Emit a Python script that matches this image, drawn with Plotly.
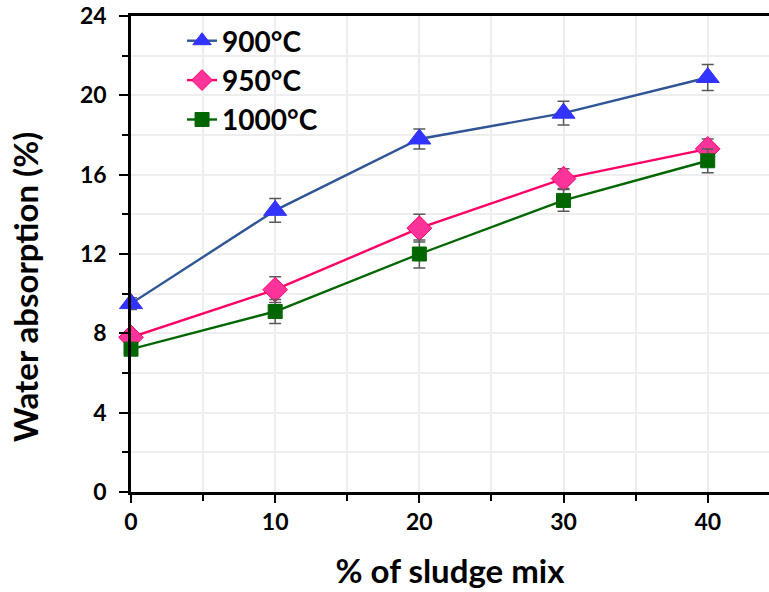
import plotly.graph_objects as go

sludge = [0, 10, 20, 30, 40]
wa_900 = [9.5, 14.2, 17.8, 19.1, 20.9]
err_900 = [0.3, 0.6, 0.5, 0.6, 0.65]
wa_950 = [7.8, 10.2, 13.3, 15.8, 17.3]
err_950 = [0.2, 0.65, 0.7, 0.5, 0.5]
wa_1000 = [7.2, 9.1, 12.0, 14.7, 16.7]
err_1000 = [0.2, 0.6, 0.7, 0.55, 0.6]
y_ticks = [0, 4, 8, 12, 16, 20, 24]
x_ticks = [0, 10, 20, 30, 40]

FONT = "Lato"
fig = go.Figure()

series = [
    ("900°C", wa_900, err_900, "#2F5597", "#3333FF", "#3333FF", "triangle-up", 20),
    ("950°C", wa_950, err_950, "#FF0066", "#FF3399", "#FF0066", "diamond", 19),
    ("1000°C", wa_1000, err_1000, "#006600", "#006600", "#006600", "square", 14),
]
for name, ys, errs, lc, mc, mlc, sym, sz in series:
    fig.add_trace(go.Scatter(
        x=sludge, y=ys, name=name, mode="lines+markers", cliponaxis=False,
        line=dict(color=lc, width=2.4),
        marker=dict(symbol=sym, size=sz, color=mc, line=dict(color=mlc, width=1)),
        error_y=dict(type="data", array=errs, visible=True, color="#595959",
                     thickness=1.5, width=6),
    ))

fig.update_layout(
    width=769, height=592,
    margin=dict(l=131, r=0, t=16, b=100),
    paper_bgcolor="white", plot_bgcolor="white",
    font=dict(family=FONT, color="black"),
    showlegend=True,
    legend=dict(x=0.08, y=1.0, xanchor="left", yanchor="top",
                bgcolor="rgba(0,0,0,0)",
                font=dict(family=FONT, size=28, color="black", weight="bold")),
    xaxis=dict(
        range=[0, 44.25], tickvals=x_ticks, ticktext=[str(v) for v in x_ticks],
        tickfont=dict(family=FONT, size=23, weight="bold"),
        showline=True, linecolor="black", linewidth=2.5, mirror=True,
        ticks="outside", ticklen=8, tickwidth=2, tickcolor="black",
        minor=dict(dtick=5, tick0=0, ticks="outside", ticklen=6, tickwidth=2,
                   tickcolor="black", showgrid=True, gridcolor="#EEEEEE", gridwidth=1.5),
        showgrid=True, gridcolor="#EEEEEE", gridwidth=1.5,
        zeroline=False,
        title=dict(text="% of sludge mix", font=dict(family=FONT, size=33, weight="bold"),
                   standoff=26),
    ),
    yaxis=dict(
        range=[0, 24], tickvals=y_ticks, ticktext=[str(v) for v in y_ticks],
        tickfont=dict(family=FONT, size=23, weight="bold"),
        showline=True, linecolor="black", linewidth=2.5,
        ticks="outside", ticklen=9, tickwidth=2, tickcolor="black",
        ticklabelstandoff=8,
        minor=dict(dtick=2, tick0=0, ticks="outside", ticklen=6, tickwidth=2,
                   tickcolor="black", showgrid=True, gridcolor="#EEEEEE", gridwidth=1.5),
        showgrid=True, gridcolor="#EEEEEE", gridwidth=1.5,
        zeroline=False,
    ),
    annotations=[dict(
        text="Water absorption (%)", xref="paper", yref="paper",
        x=-0.165, y=0.43, xanchor="center", yanchor="middle", textangle=-90,
        showarrow=False, font=dict(family=FONT, size=33, weight="bold", color="black"),
    )],
)

fig.write_html("out.html")
